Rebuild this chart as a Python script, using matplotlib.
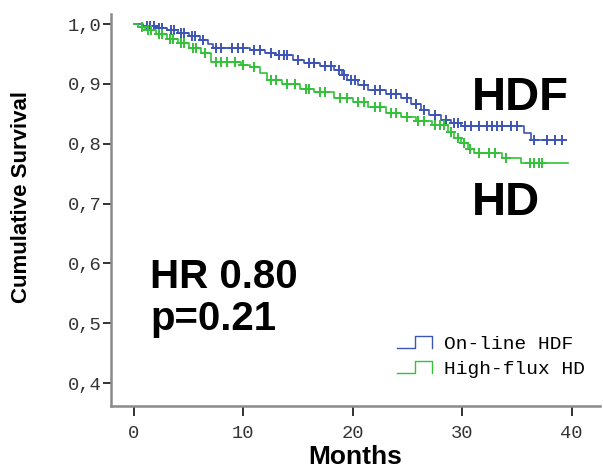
import numpy as np
import matplotlib
matplotlib.use("Agg")
import matplotlib.pyplot as plt
from matplotlib.legend_handler import HandlerBase
from matplotlib.lines import Line2D

# Kaplan-Meier steps (months, cumulative survival)
hdf_times = [0, 0.8, 2.0, 3.0, 4.0, 5.0, 6.0, 6.8, 7.2, 10.6, 12.0, 13.0, 14.5,
             15.5, 17.0, 18.3, 19.0, 19.5, 20.5, 21.4, 23.0, 24.4, 25.3, 26.2,
             27.0, 28.1, 29.0, 29.9, 35.7, 36.3, 39.4]
hdf_surv = [1.0, 0.997, 0.994, 0.99, 0.985, 0.98, 0.973, 0.966, 0.96, 0.957,
            0.952, 0.948, 0.94, 0.935, 0.93, 0.923, 0.915, 0.906, 0.898, 0.89,
            0.883, 0.876, 0.866, 0.856, 0.848, 0.84, 0.835, 0.829, 0.818,
            0.806, 0.806]
hdf_censor = [1.2, 1.5, 1.8, 2.3, 2.6, 3.4, 3.7, 4.3, 4.6, 5.3, 5.6, 6.3, 7.5,
              8.0, 9.0, 9.5, 10.0, 11.0, 11.5, 12.5, 13.3, 13.7, 14.0, 15.0,
              16.0, 16.5, 17.5, 18.0, 18.7, 19.2, 19.8, 20.2, 21.0, 22.0, 22.5,
              23.5, 24.0, 25.0, 25.8, 26.5, 27.5, 28.5, 29.3, 29.6, 30.3, 30.8,
              31.5, 32.3, 32.7, 33.2, 33.6, 34.5, 35.0, 36.6, 37.8, 38.5, 39.1]

hd_times = [0, 0.4, 1.0, 2.0, 3.0, 4.0, 5.0, 6.1, 7.0, 9.8, 10.6, 11.5, 12.2,
            13.5, 15.2, 16.5, 18.3, 20.0, 21.4, 23.0, 24.4, 25.8, 27.2, 28.7,
            29.3, 29.9, 30.5, 31.1, 33.6, 35.4, 39.7]
hd_surv = [1.0, 0.995, 0.99, 0.983, 0.975, 0.968, 0.96, 0.952, 0.937, 0.932,
           0.928, 0.918, 0.907, 0.9, 0.892, 0.886, 0.877, 0.869, 0.861, 0.852,
           0.845, 0.838, 0.831, 0.82, 0.81, 0.802, 0.792, 0.784, 0.776, 0.768,
           0.768]
hd_censor = [0.7, 1.3, 1.6, 2.3, 2.6, 3.3, 3.6, 4.3, 4.6, 5.4, 5.7, 6.5, 7.5,
             8.0, 8.5, 9.2, 10.0, 11.0, 12.5, 13.0, 14.0, 14.7, 15.7, 16.0,
             17.0, 17.5, 18.8, 19.5, 20.5, 21.0, 22.0, 22.5, 23.5, 24.0, 25.0,
             26.0, 26.5, 27.5, 28.0, 28.3, 29.0, 29.6, 30.2, 30.7, 31.5, 32.5,
             33.0, 34.0, 36.2, 36.6, 37.0, 37.3]

x_ticks = [0, 10, 20, 30, 40]
y_ticks = [0.4, 0.5, 0.6, 0.7, 0.8, 0.9, 1.0]
y_ticklabels = ["0,4", "0,5", "0,6", "0,7", "0,8", "0,9", "1,0"]

BLUE = "#3d55b4"
GREEN = "#33c23a"
MONO = "Liberation Mono"
SANS = "Liberation Sans"
W, H = 603, 471


class StepHandler(HandlerBase):
    # little "_|‾|" icon used in the SPSS legend
    def create_artists(self, legend, orig, xd, yd, width, height, fontsize, trans):
        xs = np.array([0, 0.5, 0.5, 0.95, 0.95]) * width - xd
        ys = np.array([0.05, 0.05, 0.95, 0.95, 0.05]) * height - yd
        ln = Line2D(xs, ys, color=orig.get_color(), lw=1.0, transform=trans)
        return [ln]


def censor_y(times, surv, cens):
    idx = np.searchsorted(times, cens, side="right") - 1
    return np.asarray(surv)[idx]


fig = plt.figure(figsize=(W / 100, H / 100), dpi=100)
ax = fig.add_axes([0.184, 0.138, 0.811, 0.832])

for t, s, c, col, lab in [(hdf_times, hdf_surv, hdf_censor, BLUE, "On-line HDF"),
                          (hd_times, hd_surv, hd_censor, GREEN, "High-flux HD")]:
    ax.step(t, s, where="post", color=col, lw=1.2, label=lab)
    ax.plot(c, censor_y(t, s, c), ls="none", marker="+", ms=7, mew=1.4, color=col)

ax.set_xlim(-2.1, 42.6)
ax.set_ylim(0.3616, 1.0167)
ax.set_xticks(x_ticks)
ax.set_xticklabels([str(v) for v in x_ticks], family=MONO, fontsize=13.5, color="#333333")
ax.set_yticks(y_ticks)
ax.set_yticklabels(y_ticklabels, family=MONO, fontsize=13.5, color="#333333")
ax.tick_params(axis="x", length=7, width=1.3, pad=7, color="#222222")
ax.tick_params(axis="y", length=6, width=1.3, pad=1, color="#222222")

for side in ["top", "right"]:
    ax.spines[side].set_visible(False)
for side in ["left", "bottom"]:
    ax.spines[side].set_color("#8a8a8a")
    ax.spines[side].set_linewidth(1.8)

ax.set_xlabel("Months", family=SANS, fontweight="bold", fontsize=19, labelpad=2)
fig.text(22 / W, 1 - 197 / H, "Cumulative Survival", family=SANS, fontweight="bold",
         fontsize=16, rotation=90, ha="center", va="center")

handles, labels = ax.get_legend_handles_labels()
leg = ax.legend(handles, labels, handler_map={Line2D: StepHandler()},
                frameon=False, prop={"family": MONO, "size": 14},
                loc="upper left", bbox_to_anchor=(397 / W, 1 - 335 / H),
                bbox_transform=fig.transFigure, borderpad=0, borderaxespad=0,
                handlelength=1.9, handletextpad=0.5, labelspacing=0.4)

txt = dict(family=SANS, fontweight="bold", va="baseline", ha="left")
fig.text(472 / W, 1 - 110 / H, "HDF", fontsize=34, **txt)
fig.text(472 / W, 1 - 215 / H, "HD", fontsize=34, **txt)
fig.text(150 / W, 1 - 288 / H, "HR 0.80", fontsize=29, **txt)
fig.text(150 / W, 1 - 330 / H, "p=0.21", fontsize=29, **txt)

fig.savefig("out.png", dpi=100)
